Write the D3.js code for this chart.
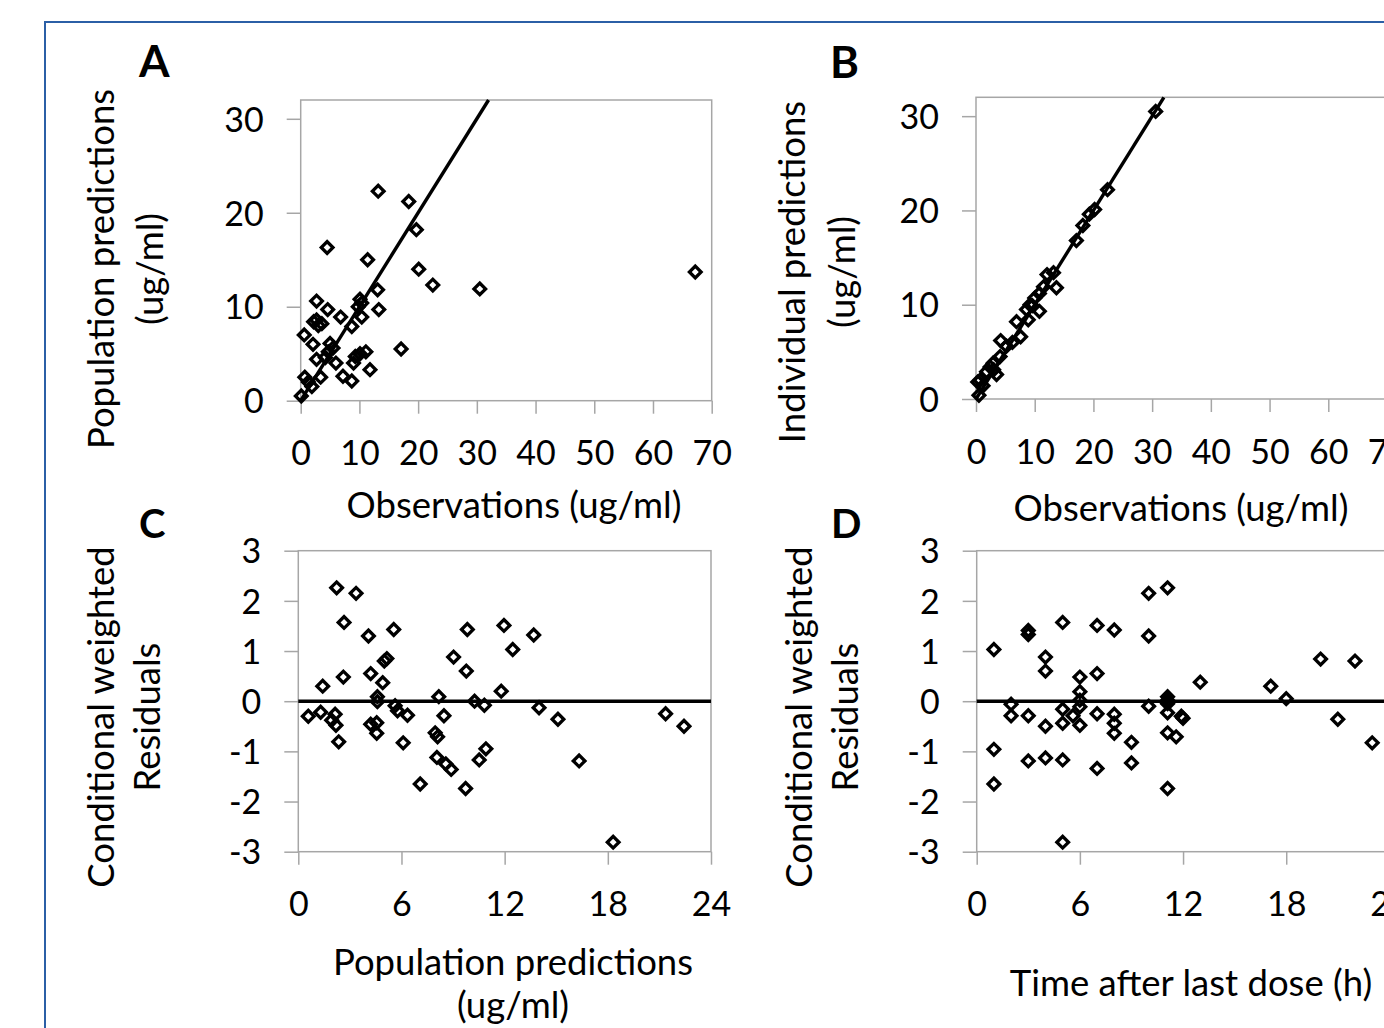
<!DOCTYPE html>
<html>
<head>
<meta charset="utf-8">
<script src="https://cdn.jsdelivr.net/npm/d3@7"></script>
<style>
  body { margin: 0; background: #fff; }
  svg { display: block; }
</style>
</head>
<body>
<div id="graphic"></div>
<script>
// panel A: observations vs population predictions (ug/ml)
const aObs  = [13.2, 18.4, 19.7, 4.5, 11.4, 20.1, 22.5, 30.5, 67.2, 13.1, 13.3, 10.1, 10.4, 2.7, 4.6,
               6.8, 2.7, 3.6, 2.2, 8.7, 10.4, 0.6, 2.1, 5.0, 4.7, 2.7, 6.0, 9.3, 11.1, 10.1, 9.0,
               17.1, 11.8, 7.2, 8.7, 3.4, 0.7, 1.3, 1.9, 0.1, 3.0, 5.5, 4.2, 9.8];
const aPred = [22.3, 21.2, 18.2, 16.3, 15.0, 14.0, 12.3, 11.9, 13.7, 11.8, 9.7, 10.8, 10.4, 10.6, 9.7,
               8.9, 8.6, 8.2, 8.4, 7.9, 8.9, 7.0, 6.0, 6.1, 5.2, 4.4, 4.0, 4.7, 5.2, 5.0, 4.0,
               5.5, 3.3, 2.6, 2.1, 2.5, 2.5, 2.0, 1.5, 0.5, 8.0, 5.6, 4.6, 10.0];

// panel B: observations vs individual predictions (ug/ml)
const bObs   = [30.6, 22.4, 20.2, 19.3, 18.2, 17.1, 13.2, 12.1, 13.7, 10.8, 10.0, 9.2, 10.8, 8.6,
                8.9, 6.9, 7.6, 4.2, 5.2, 4.1, 2.9, 2.4, 3.5, 1.8, 0.7, 0.3, 1.2, 0.5, 11.5, 9.6, 6.2, 3.0];
const bIpred = [30.5, 22.2, 20.1, 19.6, 18.4, 16.8, 13.4, 13.2, 11.8, 11.2, 10.7, 10.0, 9.3, 9.5,
                8.4, 8.2, 6.6, 6.2, 5.6, 4.5, 3.8, 3.4, 2.6, 2.9, 2.0, 1.8, 1.4, 0.4, 11.9, 9.9, 6.0, 3.1];

// panel C: population predictions (ug/ml) vs CWRES
const cPred  = [2.23, 3.36, 2.66, 4.08, 5.55, 5.15, 5.0, 1.42, 2.62, 4.21, 4.91, 4.6, 4.6, 0.58, 1.30,
                2.14, 1.94, 2.19, 2.35, 4.21, 4.56, 4.56, 5.63, 5.77, 6.35, 6.1, 7.09, 8.17, 8.47, 7.96,
                8.1, 8.06, 8.58, 8.89, 9.73, 9.03, 9.83, 9.77, 10.25, 10.82, 11.8, 11.96, 12.47, 10.91,
                10.52, 13.69, 14.0, 15.1, 16.33, 18.31, 21.36, 22.43];
const cCwres = [2.26, 2.15, 1.57, 1.30, 1.43, 0.85, 0.80, 0.30, 0.48, 0.55, 0.37, 0.09, -0.01, -0.30, -0.22,
                -0.26, -0.38, -0.48, -0.81, -0.46, -0.43, -0.64, -0.09, -0.19, -0.28, -0.83, -1.65, 0.09, -0.29, -0.63,
                -0.71, -1.12, -1.25, -1.36, -1.74, 0.88, 1.43, 0.60, 0.0, -0.08, 0.2, 1.51, 1.03, -0.95,
                -1.17, 1.32, -0.13, -0.36, -1.19, -2.81, -0.25, -0.5];

// panel D: time after last dose (h) vs CWRES
const dTime  = [1.0, 1.0, 1.0, 2.0, 2.0, 3.0, 3.0, 3.0, 3.0, 4.0, 4.0, 4.0, 4.0, 5.0, 5.0, 5.0, 5.0, 5.0,
                5.6, 6.0, 6.0, 6.0, 6.0, 6.0, 7.0, 7.0, 7.0, 7.0, 8.0, 8.0, 8.0, 8.0, 9.0, 9.0, 10.0, 10.0,
                10.0, 11.1, 11.1, 11.1, 11.1, 11.1, 11.1, 11.1, 11.6, 11.9, 12.0, 13.0, 17.1, 18.0, 20.0,
                21.0, 22.0, 23.0];
const dCwres = [1.03, -0.96, -1.65, -0.06, -0.29, 1.41, 1.33, -0.29, -1.19, 0.88, 0.60, -0.50, -1.13, 1.57,
                -0.16, -0.44, -1.17, -2.81, -0.29, 0.48, 0.19, 0.02, -0.11, -0.48, 1.51, 0.55, -0.25, -1.34,
                1.42, -0.26, -0.44, -0.64, -0.82, -1.23, 2.15, 1.30, -0.10, 2.26, 0.09, 0.02, -0.05, -0.23,
                -0.63, -1.74, -0.71, -0.30, -0.34, 0.38, 0.30, 0.05, 0.84, -0.36, 0.80, -0.83];

const concTicks = [0, 10, 20, 30, 40, 50, 60, 70];
const predTicks = [0, 10, 20, 30];
const resTicks = [-3, -2, -1, 0, 1, 2, 3];
const sixTicks = [0, 6, 12, 18, 24];

const width = 1384, height = 1028;
const font = "Lato, 'Open Sans', sans-serif";
const tickSize = 34, titleSize = 36.5;

const svg = d3.select("#graphic")
  .append("svg")
  .attr("width", width)
  .attr("height", height)
  .attr("font-family", font);

svg.append("rect")
  .attr("width", width).attr("height", height)
  .attr("fill", "#fff");

// blue frame of the figure, runs off the right and bottom edge
svg.append("rect")
  .attr("x", 45).attr("y", 22)
  .attr("width", 1400).attr("height", 1100)
  .attr("fill", "none")
  .attr("stroke", "#2b5fa6")
  .attr("stroke-width", 2);

const diamond = d3.symbol().type(d3.symbolSquare).size(68);

function panel(p) {
  const x = d3.scaleLinear().domain(p.xDomain).range(p.xRange);
  const y = d3.scaleLinear().domain(p.yDomain).range(p.yRange);
  const g = svg.append("g");
  const clipId = "clip" + p.letter;

  g.append("clipPath").attr("id", clipId)
    .append("rect")
      .attr("x", p.xRange[0] - 10).attr("y", p.yRange[1])
      .attr("width", p.xRange[1] - p.xRange[0] + 20)
      .attr("height", p.yRange[0] - p.yRange[1] + 10);

  // plot area box
  g.append("rect")
    .attr("x", p.xRange[0]).attr("y", p.yRange[1])
    .attr("width", p.xRange[1] - p.xRange[0])
    .attr("height", p.yRange[0] - p.yRange[1])
    .attr("fill", "none")
    .attr("stroke", "#a6a6a6")
    .attr("stroke-width", 1.5);

  const fmt = d => String(d);
  const yAxis = d3.axisLeft(y).tickValues(p.yTicks).tickSize(14).tickPadding(23).tickFormat(fmt);
  const xAxis = d3.axisBottom(x).tickValues(p.xTicks).tickSize(13).tickPadding(28).tickFormat(fmt);

  g.append("g")
    .attr("transform", `translate(${p.xRange[0]},0)`)
    .call(yAxis)
    .call(a => a.select(".domain").remove())
    .call(a => a.selectAll("line").attr("stroke", "#a6a6a6").attr("stroke-width", 1.5))
    .call(a => a.selectAll("text")
      .attr("font-family", font).attr("font-size", tickSize).attr("fill", "#000")
      .attr("dy", "0.36em"));

  g.append("g")
    .attr("transform", `translate(0,${p.yRange[0]})`)
    .call(xAxis)
    .call(a => a.select(".domain").remove())
    .call(a => a.selectAll("line").attr("stroke", "#a6a6a6").attr("stroke-width", 1.5))
    .call(a => a.selectAll("text")
      .attr("font-family", font).attr("font-size", tickSize).attr("fill", "#000")
      .attr("dy", "0.7em"));

  const inner = g.append("g").attr("clip-path", `url(#${clipId})`);
  const lines = g.append("g");

  if (p.refLine === "identity") {
    const top = p.yDomain[1];
    lines.append("line")
      .attr("x1", x(0)).attr("y1", y(0))
      .attr("x2", x(top)).attr("y2", y(top))
      .attr("stroke", "#000").attr("stroke-width", 3.4);
  } else {
    lines.append("line")
      .attr("x1", p.xRange[0]).attr("y1", y(0))
      .attr("x2", p.xRange[1]).attr("y2", y(0))
      .attr("stroke", "#000").attr("stroke-width", 3.5);
  }

  const pts = p.xs.map((v, i) => [v, p.ys[i]]);
  inner.selectAll("path.pt")
    .data(pts)
    .join("path")
      .attr("class", "pt")
      .attr("d", diamond)
      .attr("transform", d => `translate(${x(d[0])},${y(d[1])}) rotate(45)`)
      .attr("fill", "none")
      .attr("stroke", "#000")
      .attr("stroke-width", 3.3);

  // panel letter
  svg.append("text")
    .attr("x", p.letterPos[0]).attr("y", p.letterPos[1])
    .attr("font-size", p.letterSize).attr("font-weight", "bold")
    .text(p.letter);

  // y title, two lines
  p.yTitle.forEach((t, i) => {
    svg.append("text")
      .attr("transform", `translate(${p.yTitlePos[i]},${p.yTitleMid}) rotate(-90)`)
      .attr("text-anchor", "middle")
      .attr("font-size", titleSize)
      .text(t);
  });

  p.xTitle.forEach((t, i) => {
    svg.append("text")
      .attr("x", p.xTitleMid).attr("y", p.xTitlePos[i])
      .attr("text-anchor", "middle")
      .attr("font-size", titleSize)
      .text(t);
  });
}

panel({
  letter: "A", letterPos: [139, 77], letterSize: 44,
  xs: aObs, ys: aPred,
  xDomain: [0, 70], xRange: [300.7, 711.7], xTicks: concTicks,
  yDomain: [0, 32], yRange: [400.7, 100], yTicks: predTicks,
  refLine: "identity",
  yTitle: ["Population predictions", "(ug/ml)"], yTitlePos: [114, 163], yTitleMid: 269,
  xTitle: ["Observations (ug/ml)"], xTitlePos: [518], xTitleMid: 514
});

panel({
  letter: "B", letterPos: [830, 78], letterSize: 44,
  xs: bObs, ys: bIpred,
  xDomain: [0, 70], xRange: [976, 1387], xTicks: concTicks,
  yDomain: [0, 32], yRange: [399, 97.3], yTicks: predTicks,
  refLine: "identity",
  yTitle: ["Individual predictions", "(ug/ml)"], yTitlePos: [805, 855], yTitleMid: 272,
  xTitle: ["Observations (ug/ml)"], xTitlePos: [521], xTitleMid: 1181
});

panel({
  letter: "C", letterPos: [139, 538], letterSize: 40,
  xs: cPred, ys: cCwres,
  xDomain: [0, 24], xRange: [298.3, 711], xTicks: sixTicks,
  yDomain: [-3, 3], yRange: [851.7, 550.7], yTicks: resTicks,
  refLine: "zero",
  yTitle: ["Conditional weighted", "Residuals"], yTitlePos: [114, 160], yTitleMid: 717,
  xTitle: ["Population predictions", "(ug/ml)"], xTitlePos: [975, 1018], xTitleMid: 513
});

panel({
  letter: "D", letterPos: [831, 538], letterSize: 40,
  xs: dTime, ys: dCwres,
  xDomain: [0, 24], xRange: [976.7, 1389.4], xTicks: sixTicks,
  yDomain: [-3, 3], yRange: [851.7, 550.7], yTicks: resTicks,
  refLine: "zero",
  yTitle: ["Conditional weighted", "Residuals"], yTitlePos: [812, 858], yTitleMid: 717,
  xTitle: ["Time after last dose (h)"], xTitlePos: [996], xTitleMid: 1191
});
</script>
</body>
</html>
